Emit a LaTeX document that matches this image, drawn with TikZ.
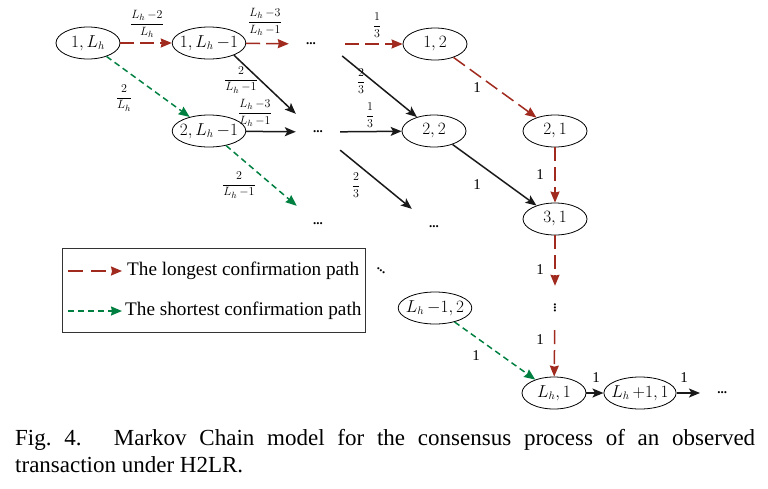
\documentclass[tikz,border=0pt]{standalone}
\usepackage{fontspec}
\setmainfont{Liberation Serif}
\usepackage{amsmath}
\usetikzlibrary{arrows.meta,positioning,shapes.geometric}
\definecolor{longred}{RGB}{160,42,30}
\definecolor{shortgreen}{RGB}{0,128,64}

\begin{document}
\begin{tikzpicture}[x=1pt,y=-1pt,
  state/.style={ellipse,draw,line width=0.8pt,minimum width=64pt,minimum height=32pt,inner xsep=-3pt,inner ysep=0pt,font=\fontsize{16}{19}\selectfont},
  dots/.style={minimum width=44pt,minimum height=36pt,inner sep=0pt,font=\fontsize{13}{15}\selectfont\bfseries},
  blk/.style={draw=black!90,line width=1.5pt,-{Stealth[length=11pt,width=9pt,inset=2.5pt]}},
  longp/.style={draw=longred,line width=1.5pt,dash pattern=on 14pt off 6pt,-{Stealth[length=11pt,width=9pt,inset=1pt]}},
  shortp/.style={draw=shortgreen,line width=1.5pt,dash pattern=on 6pt off 4pt,-{Stealth[length=11pt,width=9pt,inset=1pt]}},
  prob/.style={font=\fontsize{12.5}{14}\selectfont},
  one/.style={font=\fontsize{15}{17}\selectfont},
  legtext/.style={anchor=west,inner sep=0pt,font=\fontsize{19.2}{22}\selectfont}]
  \useasboundingbox (0,0) rectangle (768,488); % 図全体の範囲

  % 状態を表す楕円
  \node[state] (n1a) at (88,43) {$1,L_h$};
  \node[state] (n1b) at (209,43) {$1,L_h\,{-}1$};
  \node[state] (n12) at (435,44) {$1,2$};
  \node[state] (n2b) at (209,131) {$2,L_h\,{-}1$};
  \node[state] (n22) at (434,131) {$2,2$};
  \node[state] (n21) at (555,131) {$2,1$};
  \node[state] (n31) at (555,219) {$3,1$};
  \node[state] (nm2) at (435,308) {$L_h\,{-}1,2$};
  \node[state] (nL1) at (554,393) {$L_h,1$};
  \node[state] (nL2) at (640,393) {$L_h\,{+}1,1$};

  % 省略記号
  \node[dots] (d1) at (311,44) {...};
  \node[dots] (d2) at (318,132) {...};
  \node[dots] (d3a) at (318,224) {...};
  \node[dots] (d3b) at (434,227) {...};
  \node[dots,rotate=90] (vd) at (555,308) {...};
  \node[dots,rotate=-35] (dd) at (381,271) {...};
  \node[dots,anchor=west] (dr) at (700,393) {...};

  % 最長の確認経路（赤の破線）
  \draw[longp] (n1a) -- (n1b); % 1,L_h から 1,L_h-1 へ
  \draw[longp] (n1b) -- (d1); % 1,L_h-1 から省略記号へ
  \draw[longp,shorten <=12pt] (d1) -- (n12); % 省略記号から 1,2 へ
  \draw[longp] (n12) -- (n21); % 1,2 から 2,1 へ
  \draw[longp] (n21) -- (n31); % 2,1 から 3,1 へ
  \draw[longp] (n31) -- (vd); % 3,1 から縦の省略記号へ
  \draw[longp] (vd) -- (nL1); % 縦の省略記号から L_h,1 へ

  % 最短の確認経路（緑の破線）
  \draw[shortp] (n1a) -- (n2b); % 1,L_h から 2,L_h-1 へ
  \draw[shortp] (n2b) -- (d3a); % 2,L_h-1 から下の省略記号へ
  \draw[shortp] (nm2) -- (nL1); % L_h-1,2 から L_h,1 へ

  % その他の遷移（黒の実線）
  \draw[blk] (n1b.-26) -- (d2.north west); % 1,L_h-1 から2段目の省略記号へ
  \draw[blk] ([shift={(9,12)}]d1.east) -- (n22); % 上の省略記号から 2,2 へ
  \draw[blk] (n2b) -- (d2); % 2,L_h-1 から省略記号へ
  \draw[blk] (d2) -- (n22); % 省略記号から 2,2 へ
  \draw[blk] (d2) -- (d3b); % 省略記号から下の省略記号へ
  \draw[blk] (n22) -- (n31); % 2,2 から 3,1 へ
  \draw[blk] (nL1) -- (nL2); % L_h,1 から L_h+1,1 へ
  \draw[blk] (nL2) -- (dr); % L_h+1,1 から右の省略記号へ

  % 遷移確率
  \node[prob] (p1) at (147,24) {$\dfrac{L_h\,{-}2}{L_h}$};
  \node[prob] (p2) at (265,22) {$\dfrac{L_h\,{-}3}{L_h\,{-}1}$};
  \node[prob] (p3) at (377,25) {$\dfrac{1}{3}$};
  \node[prob] (p4) at (241,80) {$\dfrac{2}{L_h\,{-}1}$};
  \node[prob] (p5) at (124,98) {$\dfrac{2}{L_h}$};
  \node[prob] (p6) at (255,113) {$\dfrac{L_h\,{-}3}{L_h\,{-}1}$};
  \node[prob] (p7) at (361,81) {$\dfrac{2}{3}$};
  \node[prob] (p8) at (370,115) {$\dfrac{1}{3}$};
  \node[prob] (p9) at (239,185) {$\dfrac{2}{L_h\,{-}1}$};
  \node[prob] (p10) at (356,185) {$\dfrac{2}{3}$};
  \node[one] (o1) at (477,88) {1};
  \node[one] (o2) at (477,185) {1};
  \node[one] (o3) at (540,175) {1};
  \node[one] (o4) at (540,270) {1};
  \node[one] (o5) at (540,340) {1};
  \node[one] (o6) at (476,356) {1};
  \node[one] (o7) at (596,378) {1};
  \node[one] (o8) at (684,378) {1};

  % 凡例
  \draw[line width=0.8pt,black!80] (62,248) rectangle (365,332); % 凡例の枠
  \coordinate (la1) at (68,271);
  \coordinate (la2) at (122,271);
  \coordinate (lb1) at (68,311);
  \coordinate (lb2) at (122,311);
  \draw[longp,dash pattern=on 15pt off 8pt] (la1) -- (la2); % 最長経路の見本
  \draw[shortp] (lb1) -- (lb2); % 最短経路の見本
  \node[legtext] (lt1) at (127,271) {The longest confirmation path};
  \node[legtext] (lt2) at (125,311) {The shortest confirmation path};

  % 図のキャプション
  \node[anchor=north west,inner sep=0pt,text width=740pt,align=justify,
    font=\fontsize{23}{27}\selectfont\frenchspacing] (cap) at (15,429)
    {Fig. 4.\hspace{1.4em}Markov Chain model for the consensus process of an observed\linebreak transaction under H2LR.};
\end{tikzpicture}
\end{document}
